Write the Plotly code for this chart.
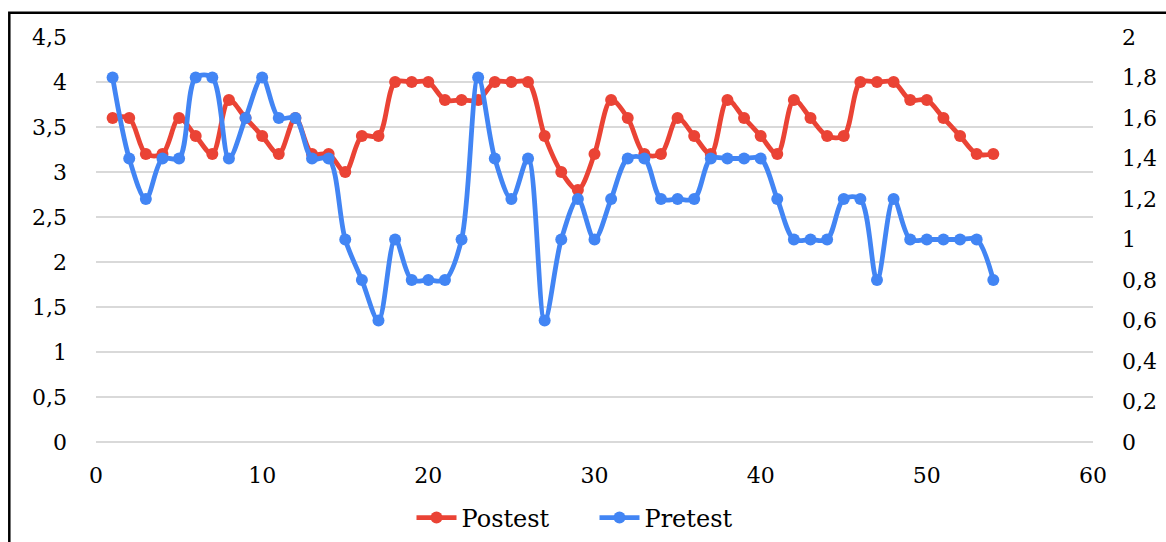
import plotly.graph_objects as go

# Item index (1..54)
items = list(range(1, 55))

# Post-test scores (left axis, 0 - 4.5)
postest = [3.6, 3.6, 3.2, 3.2, 3.6, 3.4, 3.2, 3.8, 3.6, 3.4,
           3.2, 3.6, 3.2, 3.2, 3.0, 3.4, 3.4, 4.0, 4.0, 4.0,
           3.8, 3.8, 3.8, 4.0, 4.0, 4.0, 3.4, 3.0, 2.8, 3.2,
           3.8, 3.6, 3.2, 3.2, 3.6, 3.4, 3.2, 3.8, 3.6, 3.4,
           3.2, 3.8, 3.6, 3.4, 3.4, 4.0, 4.0, 4.0, 3.8, 3.8,
           3.6, 3.4, 3.2, 3.2]

# Pre-test scores (right axis, 0 - 2)
pretest = [1.8, 1.4, 1.2, 1.4, 1.4, 1.8, 1.8, 1.4, 1.6, 1.8,
           1.6, 1.6, 1.4, 1.4, 1.0, 0.8, 0.6, 1.0, 0.8, 0.8,
           0.8, 1.0, 1.8, 1.4, 1.2, 1.4, 0.6, 1.0, 1.2, 1.0,
           1.2, 1.4, 1.4, 1.2, 1.2, 1.2, 1.4, 1.4, 1.4, 1.4,
           1.2, 1.0, 1.0, 1.0, 1.2, 1.2, 0.8, 1.2, 1.0, 1.0,
           1.0, 1.0, 1.0, 0.8]

RED = "#EA4335"
BLUE = "#4285F4"
FONT = "DejaVu Serif"

fig = go.Figure()

fig.add_trace(go.Scatter(
    x=items, y=postest, name="Postest", mode="lines+markers",
    line=dict(color=RED, width=4.8, shape="spline", smoothing=0.9),
    marker=dict(color=RED, size=12),
    yaxis="y",
))
fig.add_trace(go.Scatter(
    x=items, y=pretest, name="Pretest", mode="lines+markers",
    line=dict(color=BLUE, width=4.8, shape="spline", smoothing=0.9),
    marker=dict(color=BLUE, size=12),
    yaxis="y2",
))

L, R, T, B = 96, 73, 37, 100
W, H = 1166, 542
pw, ph = W - L - R, H - T - B

def px_x(x):
    return (x - L) / pw

def px_y(y):
    return (H - B - y) / ph

tickfont = dict(family=FONT, size=22, color="black")

fig.update_layout(
    width=W, height=H,
    margin=dict(l=L, r=R, t=T, b=B, pad=0, autoexpand=False),
    paper_bgcolor="white", plot_bgcolor="white",
    separators=", ",
    font=dict(family=FONT, size=22, color="black"),
    showlegend=True,
    legend=dict(
        orientation="h", x=0.5, xanchor="center", y=px_y(518), yanchor="middle",
        font=dict(family=FONT, size=24, color="black"),
        itemwidth=40, entrywidth=128, entrywidthmode="pixels",
        bgcolor="rgba(0,0,0,0)",
    ),
    xaxis=dict(
        range=[0, 60], dtick=10, tick0=0, showgrid=False, zeroline=False,
        showline=False, ticks="", ticklabelstandoff=18, tickfont=tickfont,
    ),
    yaxis=dict(
        range=[0, 4.5], dtick=0.5, tick0=0, showgrid=True,
        gridcolor="#d9d9d9", gridwidth=1.5,
        zeroline=True, zerolinecolor="#d9d9d9", zerolinewidth=1.5,
        showline=False, ticks="", ticklabelstandoff=28, tickfont=tickfont,
    ),
    yaxis2=dict(
        range=[0, 2], dtick=0.2, tick0=0, overlaying="y", side="right",
        showgrid=False, zeroline=False, showline=False, ticks="",
        ticklabelstandoff=28, tickfont=tickfont,
    ),
    shapes=[dict(
        type="rect", xref="paper", yref="paper",
        x0=px_x(9.3), x1=px_x(W + 20), y0=px_y(H + 20), y1=px_y(12.7),
        line=dict(color="black", width=2.5), fillcolor="rgba(0,0,0,0)",
        layer="below",
    )],
)

fig.write_html("out.html")
